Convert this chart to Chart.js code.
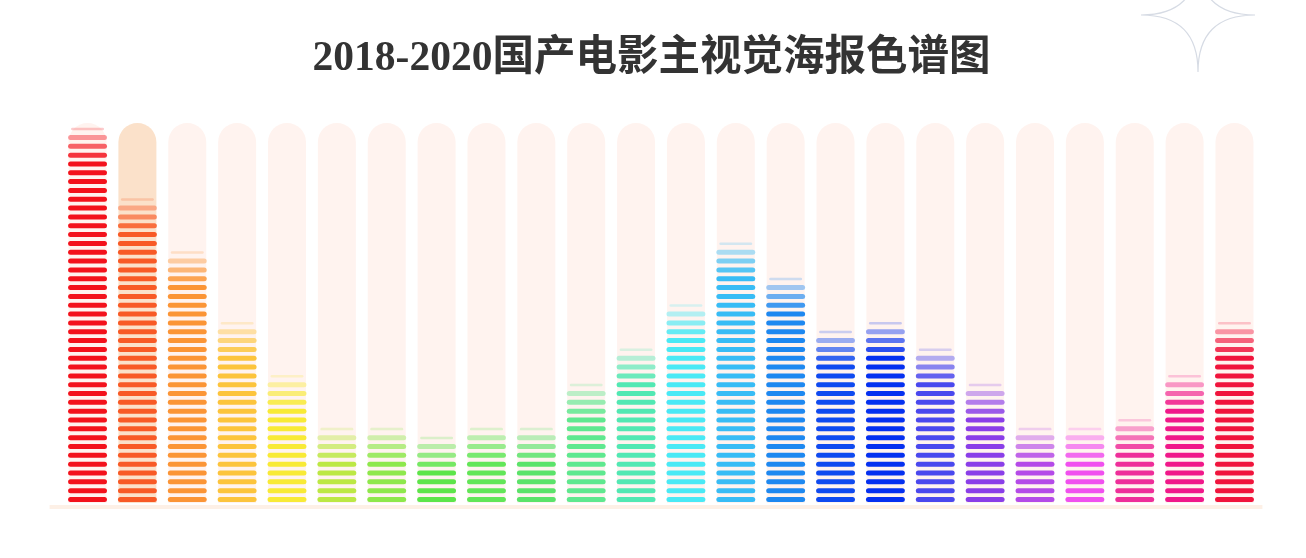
<!DOCTYPE html>
<html>
<head>
<meta charset="utf-8">
<script src="https://cdn.jsdelivr.net/npm/chart.js@4.4.1/dist/chart.umd.min.js"></script>
<style>
  html, body { margin: 0; padding: 0; background: #fff; }
  #wrap { width: 1306px; height: 558px; position: relative; }
</style>
</head>
<body>
<div id="wrap"><canvas id="chart" width="1306" height="558"></canvas></div>
<script>
const titleText = "2018-2020国产电影主视觉海报色谱图";
// hue slots, left to right
const categories = ["红", "朱", "橙", "琥珀", "黄", "黄绿", "草绿", "绿", "翠绿", "青绿", "碧绿", "松石",
  "青", "天蓝", "蓝", "宝蓝", "深蓝", "靛", "紫", "紫罗兰", "品红", "玫红", "洋红", "绯红"];
const shares = [99, 82, 67.5, 49.5, 34.5, 20, 20, 18, 20, 20, 32.5, 41.8, 54, 69, 60.5, 47, 48.3, 41.5, 32.5, 20, 20, 24, 34.5, 49.5];
const track = [100, 100, 100, 100, 100, 100, 100, 100, 100, 100, 100, 100,
  100, 100, 100, 100, 100, 100, 100, 100, 100, 100, 100, 100];
const barColors = ["#f3121c", "#f85a26", "#fb9536", "#fcc43c", "#f8ea36", "#bce844", "#8ee84c", "#5de54a",
  "#62e658", "#5be36a", "#5fe88f", "#52e8b3", "#4ae9f5", "#38bcf5", "#1e88f0", "#0f4af0",
  "#0530f0", "#4a48ee", "#8a3ee8", "#b44ae8", "#f050ef", "#ee2e9a", "#f0188a", "#f0143c"];

const trackColors = track.map((v, i) => i === 1 ? "#fbe1ca" : "#fff3ef");

// draws the striped fill inside each bar element of the "shares" dataset
const stripes = {
  id: "stripes",
  afterDatasetsDraw(chart) {
    const ctx = chart.ctx;
    const meta = chart.getDatasetMeta(1);
    const period = 8.83, h = 5;
    const topFade = [0.22, 0.42, 0.65, 0.85]; // alpha of the top stripes, topmost first
    meta.data.forEach((bar, i) => {
      const { x, y, base, width } = bar.getProps(["x", "y", "base", "width"], true);
      const left = x - width / 2;
      const n = Math.round((base - y) / period);
      ctx.save();
      ctx.filter = "blur(0.6px)";
      ctx.fillStyle = barColors[i];
      for (let k = 0; k < n; k++) {
        const fromTop = n - 1 - k;
        const top = base - 1 - h - k * period;
        ctx.globalAlpha = fromTop < topFade.length ? topFade[fromTop] : 1;
        ctx.beginPath();
        if (fromTop === 0) ctx.roundRect(left + 3, top + 1.5, width - 6, 2.5, 1.2);
        else ctx.roundRect(left, top, width, h, 2.5);
        ctx.fill();
      }
      ctx.restore();
    });
  }
};

// title, base line and the star ornament in the corner
const decor = {
  id: "decor",
  beforeDatasetsDraw(chart) {
    const { ctx, chartArea } = chart;
    ctx.save();
    ctx.fillStyle = "#333333";
    ctx.font = "bold 41.5px 'Liberation Serif', 'Noto Sans CJK SC', serif";
    ctx.textAlign = "center";
    ctx.textBaseline = "middle";
    ctx.fillText(titleText, 651.5, 59);

    ctx.fillStyle = "#fdf0e6";
    ctx.fillRect(chartArea.left - 13, chartArea.bottom + 2, chartArea.right - chartArea.left + 16, 4);
    const cx = 1198, cy = 15, r = 57;
    ctx.strokeStyle = "#d6dbe4";
    ctx.lineWidth = 1.2;
    ctx.beginPath();
    ctx.moveTo(cx - r, cy);
    ctx.quadraticCurveTo(cx, cy, cx, cy + r);
    ctx.quadraticCurveTo(cx, cy, cx + r, cy);
    ctx.quadraticCurveTo(cx, cy, cx, cy - r);
    ctx.quadraticCurveTo(cx, cy, cx - r, cy);
    ctx.stroke();
    ctx.restore();
  }
};

new Chart(document.getElementById("chart"), {
  type: "bar",
  data: {
    labels: categories,
    datasets: [
      {
        data: track,
        backgroundColor: trackColors,
        borderRadius: { topLeft: 19, topRight: 19, bottomLeft: 0, bottomRight: 0 },
        borderSkipped: false,
        grouped: false,
        barPercentage: 0.762,
        categoryPercentage: 1,
        order: 2
      },
      {
        data: shares,
        backgroundColor: "rgba(0,0,0,0)",
        grouped: false,
        barPercentage: 0.78,
        categoryPercentage: 1,
        order: 1
      }
    ]
  },
  options: {
    responsive: false,
    animation: false,
    events: [],
    layout: { padding: { top: 123, left: 62.6, right: 46.6, bottom: 55 } },
    scales: {
      x: { display: false },
      y: { display: false, min: 0, max: 100 }
    },
    plugins: {
      legend: { display: false },
      tooltip: { enabled: false },
      title: { display: false }
    }
  },
  plugins: [decor, stripes]
});
</script>
</body>
</html>
